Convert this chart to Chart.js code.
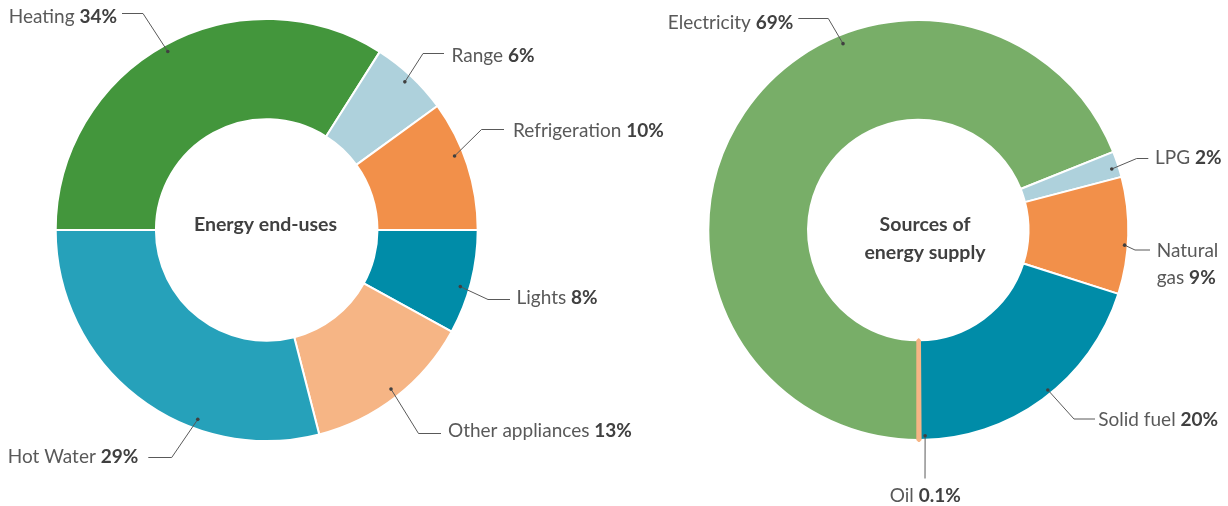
<!DOCTYPE html>
<html>
<head>
<meta charset="utf-8">
<title>Energy end-uses and sources of energy supply</title>
<script src="https://cdn.jsdelivr.net/npm/chart.js@4.4.0/dist/chart.umd.min.js"></script>
<style>
  html, body { margin: 0; padding: 0; background: #fff; }
  #wrap { position: relative; width: 1228px; height: 506px; overflow: hidden; }
  .pane { position: absolute; top: 0; height: 506px; }
  #left { left: 0; width: 690px; }
  #right { left: 614px; width: 614px; }
</style>
</head>
<body>
<div id="wrap">
  <div class="pane" id="left"><canvas id="uses_chart"></canvas></div>
  <div class="pane" id="right"><canvas id="supply_chart"></canvas></div>
</div>
<script>
// end-uses (percent)
var use_labels = ["Heating", "Range", "Refrigeration", "Lights", "Other appliances", "Hot Water"];
var use_values = [34, 6, 10, 8, 13, 29];
var use_colors = ["#43963c", "#aed1dc", "#f2904a", "#008ca8", "#f6b585", "#26a1ba"];

// supply (percent)
var supply_labels = ["Electricity", "LPG", "Natural gas", "Solid fuel", "Oil"];
var supply_values = [69, 2, 9, 20, 0.1];
var supply_colors = ["#78ae68", "#aed1dc", "#f2904a", "#008ca8", "#f6b585"];

var REG = "19px Lato";
var BOLD = "bold 19px Lato";
var TEXT = "#595959";
var STRONG = "#404040";

// where each callout sits: anchor angle (deg from top, clockwise) and radius fraction,
// elbow of the leader, end of the leader, text position
var use_callouts = [
  {angle: 331, r: 0.967, elbow: [143, 13.5], end: [122, 13.5], text: [117, 23], align: "right"},
  {angle: 43, r: 0.96, elbow: [423, 53.5], end: [444, 53.5], text: [451.5, 61.5], align: "left"},
  {angle: 68.5, r: 0.957, elbow: [481.5, 129.5], end: [504, 129.5], text: [513, 137], align: "left"},
  {angle: 106.3, r: 0.956, elbow: [488, 299.5], end: [510, 299.5], text: [516.5, 304], align: "left"},
  {angle: 142, r: 0.957, elbow: [418.5, 433.5], end: [441, 433.5], text: [448, 436.7], align: "left"},
  {angle: 200, r: 0.955, elbow: [171.7, 457.5], end: [148.3, 457.5], text: [138.3, 463.3], align: "right"}
];
var supply_callouts = [
  {angle: 338, r: 0.957, elbow: [214.3, 18.5], end: [184.3, 18.5], text: [179.3, 29], align: "right"},
  {angle: 72.5, r: 0.966, elbow: [522.7, 158.5], end: [534.3, 158.5], text: [541, 164], align: "left"},
  {angle: 94.2, r: 0.985, elbow: [521, 250], end: [536, 250], text: [542.7, 256.7], align: "left", wrap: 27.5},
  {angle: 141, r: 0.98, elbow: [460, 419], end: [481, 419], text: [484.3, 425.7], align: "left"},
  {angle: 178.1, r: 0.98, elbow: null, end: [311, 478.5], text: [311.3, 501.7], align: "center"}
];

function drawParts(ctx, parts, x, y, align) {
  var total = 0;
  parts.forEach(function (p) {
    ctx.font = p.bold ? BOLD : REG;
    p.w = ctx.measureText(p.t).width;
    total += p.w;
  });
  var cx = x;
  if (align == "right") cx = x - total;
  if (align == "center") cx = x - total / 2;
  parts.forEach(function (p) {
    ctx.font = p.bold ? BOLD : REG;
    ctx.fillStyle = p.bold ? STRONG : TEXT;
    ctx.fillText(p.t, cx, y);
    cx += p.w;
  });
}

function calloutPlugin(labels, values, callouts, title) {
  return {
    id: "callouts",
    afterDraw: function (chart) {
      var ctx = chart.ctx;
      var arcs = chart.getDatasetMeta(0).data;
      ctx.save();
      ctx.textAlign = "left";
      ctx.textBaseline = "alphabetic";

      callouts.forEach(function (c, i) {
        var arc = arcs[i];
        var a = c.angle * Math.PI / 180;
        var rr = arc.outerRadius * c.r;
        var px = arc.x + rr * Math.sin(a);
        var py = arc.y - rr * Math.cos(a);

        ctx.strokeStyle = TEXT;
        ctx.lineWidth = 1;
        ctx.beginPath();
        ctx.moveTo(px, py);
        if (c.elbow) ctx.lineTo(c.elbow[0], c.elbow[1]);
        ctx.lineTo(c.end[0], c.end[1]);
        ctx.stroke();

        ctx.fillStyle = STRONG;
        ctx.beginPath();
        ctx.arc(px, py, 1.8, 0, Math.PI * 2);
        ctx.fill();

        var value = values[i] + "%";
        if (c.wrap) {
          var words = labels[i].split(" ");
          drawParts(ctx, [{t: words[0]}], c.text[0], c.text[1], c.align);
          drawParts(ctx, [{t: words.slice(1).join(" ") + " "}, {t: value, bold: true}],
            c.text[0], c.text[1] + c.wrap, c.align);
        } else {
          drawParts(ctx, [{t: labels[i] + " "}, {t: value, bold: true}], c.text[0], c.text[1], c.align);
        }
      });

      // title in the hole
      ctx.font = "bold 19.5px Lato";
      ctx.fillStyle = STRONG;
      ctx.textAlign = "center";
      title.lines.forEach(function (line, k) {
        ctx.fillText(line, title.x, title.y + k * 28);
      });
      ctx.restore();
    }
  };
}

function donut(id, labels, values, colors, borders, widths, rotation, padding, plugin) {
  return new Chart(id, {
    type: "doughnut",
    data: {
      labels: labels,
      datasets: [{
        data: values,
        backgroundColor: colors,
        borderColor: borders,
        borderWidth: widths
      }]
    },
    options: {
      responsive: true,
      maintainAspectRatio: false,
      animation: false,
      events: [],
      rotation: rotation,
      cutout: "52.5%",
      layout: { padding: padding },
      plugins: {
        legend: { display: false },
        tooltip: { enabled: false }
      }
    },
    plugins: [plugin]
  });
}

donut("uses_chart", use_labels, use_values, use_colors,
  "#ffffff", 2, 270,
  {left: 54.7, top: 18, right: 211.3, bottom: 64},
  calloutPlugin(use_labels, use_values, use_callouts, {x: 265.5, y: 230.5, lines: ["Energy end-uses"]}));

// the oil slice is very thin, so it gets a border in its own colour
donut("supply_chart", supply_labels, supply_values, supply_colors,
  ["#ffffff", "#ffffff", "#ffffff", "#ffffff", "#f6b585"], [2, 2, 2, 2, 4], 180,
  {left: 92.3, top: 18, right: 97.7, bottom: 64},
  calloutPlugin(supply_labels, supply_values, supply_callouts, {x: 311, y: 230.5, lines: ["Sources of", "energy supply"]}));
</script>
</body>
</html>
